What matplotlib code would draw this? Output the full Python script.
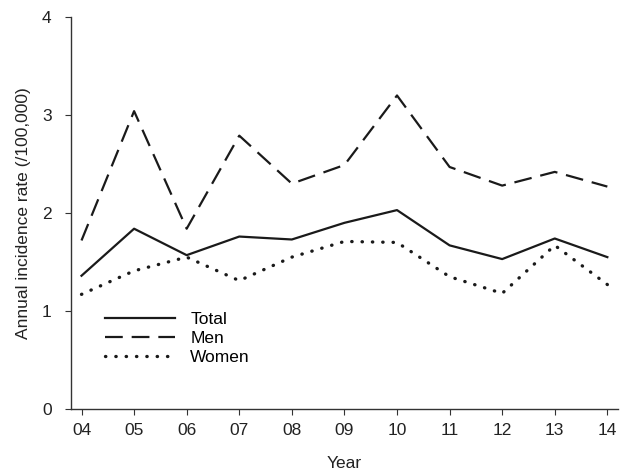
import matplotlib
matplotlib.use("Agg")
import matplotlib.pyplot as plt

plt.rcParams['font.family'] = ['Liberation Sans', 'DejaVu Sans']

years = [4, 5, 6, 7, 8, 9, 10, 11, 12, 13, 14]
year_labels = ['04', '05', '06', '07', '08', '09', '10', '11', '12', '13', '14']
total = [1.36, 1.84, 1.57, 1.76, 1.73, 1.90, 2.03, 1.67, 1.53, 1.74, 1.55]
men = [1.72, 3.04, 1.84, 2.79, 2.30, 2.49, 3.20, 2.47, 2.28, 2.42, 2.27]
women = [1.17, 1.41, 1.55, 1.31, 1.55, 1.71, 1.70, 1.35, 1.18, 1.67, 1.27]

fig = plt.figure(figsize=(6.26, 4.75), dpi=100)
ax = fig.add_axes([0.1134, 0.139, 0.8736, 0.825])

ax.plot(years, total, color='#1a1a1a', lw=1.6, label='Total')
ax.plot(years, men, color='#1a1a1a', lw=1.6, linestyle=(0, (8, 4)), label='Men')
ax.plot(years, women, color='#1a1a1a', lw=2.4, linestyle=(0, (0.1, 3.0)),
        dash_capstyle='round', label='Women')

ax.set_xlim(3.8, 14.2)
ax.set_ylim(0, 4)
ax.set_xticks(years)
ax.set_xticklabels(year_labels)
ax.set_yticks([0, 1, 2, 3, 4])

for s in ['top', 'right']:
    ax.spines[s].set_visible(False)
for s in ['left', 'bottom']:
    ax.spines[s].set_color('#333333')
    ax.spines[s].set_linewidth(1.0)
ax.tick_params(axis='both', colors='#333333', labelcolor='#222222',
               labelsize=12.5, length=4, width=0.8)
ax.tick_params(axis='x', pad=6)
ax.tick_params(axis='y', pad=10)

ax.set_xlabel('Year', fontsize=12.5, color='#222222', labelpad=13)
ax.set_ylabel('Annual incidence rate (/100,000)', fontsize=12.5, color='#222222', labelpad=8)

leg = ax.legend(loc='upper left', bbox_to_anchor=(0.05, 0.265), frameon=False,
                fontsize=12.5, handlelength=4.0, handletextpad=0.9,
                labelspacing=0.22, borderaxespad=0)

fig.savefig('out.png', dpi=100)
